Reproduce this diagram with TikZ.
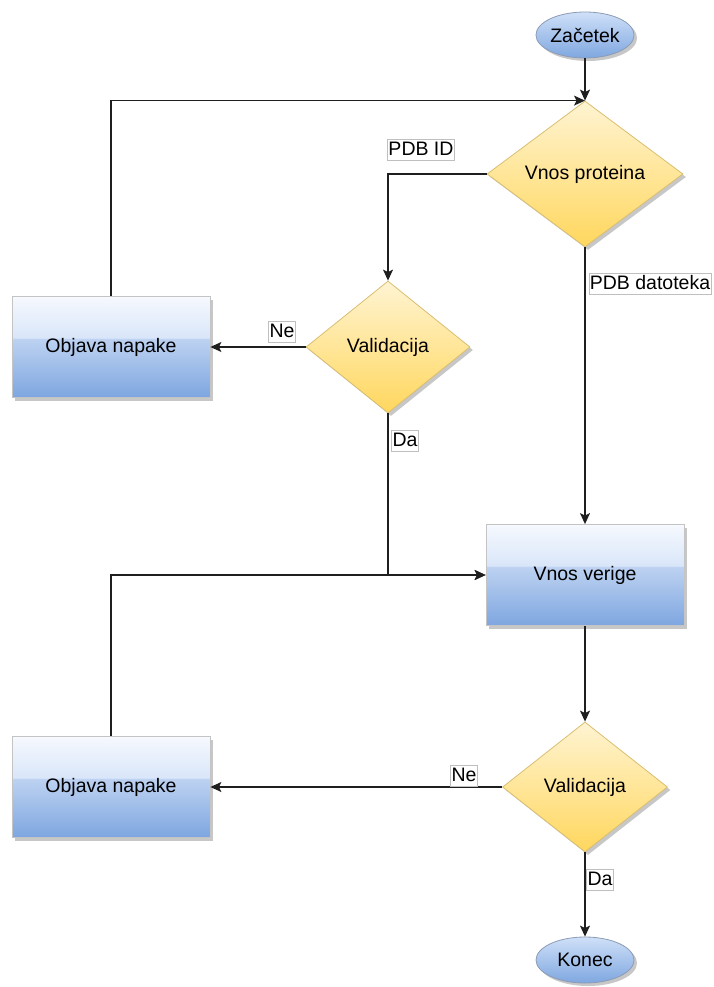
\documentclass[tikz,border=0pt]{standalone}
\usepackage{fontspec}
\setmainfont{Liberation Sans}
\usetikzlibrary{positioning,shapes.geometric,shadows,arrows.meta}

\definecolor{termTop}{HTML}{CFE0F8}
\definecolor{termBot}{HTML}{7FA7E0}
\definecolor{termLine}{HTML}{8C9CB4}
\definecolor{decTop}{HTML}{FFF4D2}
\definecolor{decBot}{HTML}{FFD75E}
\definecolor{decLine}{HTML}{D9BE72}
\definecolor{procTop}{HTML}{F6F9FE}
\definecolor{procHi}{HTML}{D9E6F9}
\definecolor{procMid}{HTML}{BDD2F1}
\definecolor{procBot}{HTML}{7EA6E0}
\definecolor{procLine}{HTML}{C4C4C4}

\pgfdeclareverticalshading{glassblue}{100bp}{color(0bp)=(procBot); color(25bp)=(procBot); color(54bp)=(procMid); color(54.6bp)=(procHi); color(75bp)=(procTop); color(100bp)=(procTop)}

\begin{document}
\begin{tikzpicture}[x=1pt,y=-1pt,
    every node/.style={font=\fontsize{19.5}{22}\selectfont},
    shadowed/.style={drop shadow={shadow xshift=3pt,shadow yshift=-3pt,fill=black!22,opacity=1}},
    terminal/.style={ellipse,draw=termLine,line width=0.8pt,top color=termTop,bottom color=termBot,
        minimum width=98pt,minimum height=46pt,inner sep=0pt,shadowed},
    decision/.style={diamond,draw=decLine,line width=0.8pt,top color=decTop,bottom color=decBot,
        inner sep=0pt,shadowed},
    process/.style={rectangle,draw=procLine,line width=0.8pt,shade,shading=glassblue,
        minimum width=198pt,minimum height=101pt,inner sep=0pt,shadowed},
    lbl/.style={draw=black!25,line width=0.5pt,fill=white,inner sep=1pt,text height=15pt,text depth=4pt},
    conn/.style={draw=black!88,line width=1.2pt,-{Stealth[length=11pt,width=10pt,inset=2.5pt]}}]
    \useasboundingbox (0,0) rectangle (713,987);
    % Nodes
    \node[terminal] (start) at (585,35) {Začetek};
    \node[decision,minimum width=196pt,minimum height=146pt] (protein) at (585,174) {Vnos proteina};
    \node[decision,minimum width=164pt,minimum height=132pt] (check1) at (388,347) {Validacija};
    \node[process] (error1) at (111,347) {Objava napake};
    \node[process] (chain) at (585,575) {Vnos verige};
    \node[decision,minimum width=165pt,minimum height=130pt] (check2) at (585,787) {Validacija};
    \node[process] (error2) at (111,787) {Objava napake};
    \node[terminal] (stop) at (585,960) {Konec};
    % Connectors
    \draw[conn] (start) -- (protein.north);
    \draw[conn] (error1.north) |- (protein.north);
    \draw[conn] (protein.west) -| (check1.north);
    \draw[conn] (protein.south) -- (chain.north);
    \draw[conn] (check1.west) -- (error1.east);
    \draw[conn] (check1.south) |- (chain.west);
    \draw[conn] (error2.north) |- (chain.west);
    \draw[conn] (chain.south) -- (check2.north);
    \draw[conn] (check2.west) -- (error2.east);
    \draw[conn] (check2.south) -- (stop.north);
    % Labels
    \node[lbl] (pdbid) at (421,150) {PDB ID};
    \node[lbl] (pdbfile) at (650,284) {PDB datoteka};
    \node[lbl] (no1) at (282,332) {Ne};
    \node[lbl] (yes1) at (405,441) {Da};
    \node[lbl] (no2) at (464,776) {Ne};
    \node[lbl] (yes2) at (600,880) {Da};
\end{tikzpicture}
\end{document}
